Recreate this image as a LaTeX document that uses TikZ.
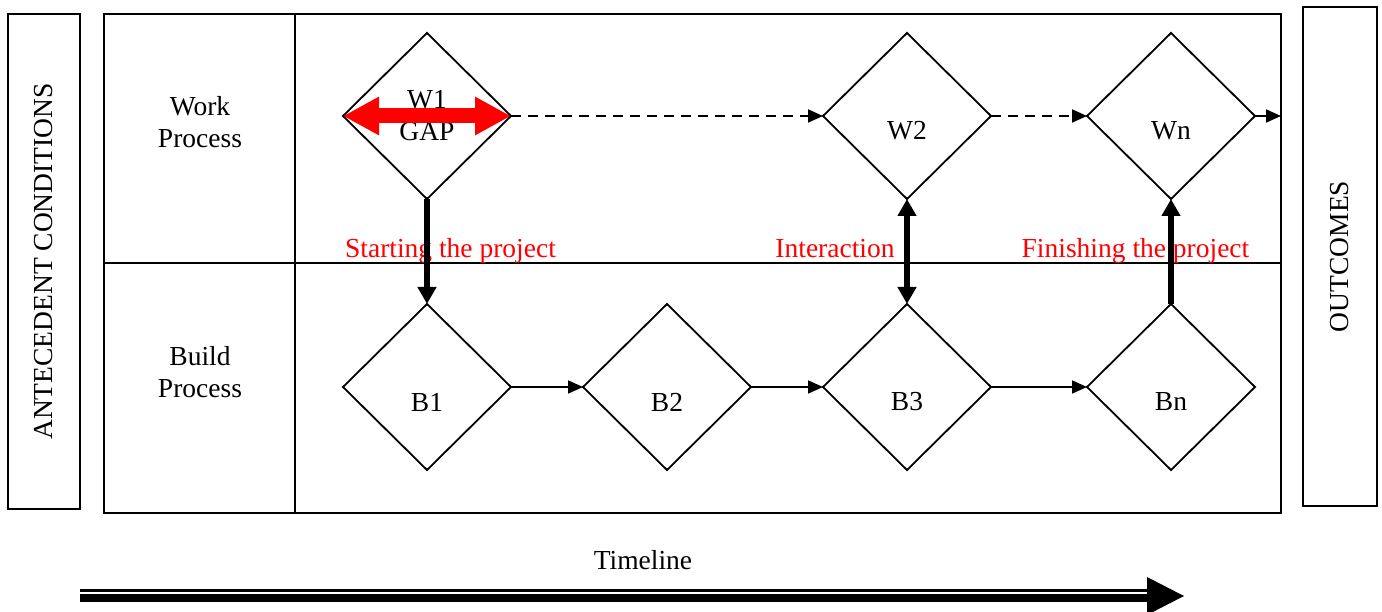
\documentclass[tikz,border=0pt]{standalone}
\usepackage{fontspec}
\setmainfont{Liberation Serif}
\usetikzlibrary{shapes.geometric,arrows.meta}
\begin{document}
\begin{tikzpicture}[x=1pt,y=-1pt,
  every node/.style={font=\fontsize{27.5}{32}\selectfont},
  dia/.style={draw,line width=1.8pt,shape=diamond,minimum width=168pt,minimum height=166pt,inner sep=0pt,outer sep=0pt,align=center},
  box/.style={draw,line width=1.8pt},
  smallarr/.style={line width=1.8pt,-{Triangle[length=15pt,width=13pt]}},
  dashline/.style={dash pattern=on 10pt off 7pt},
  bigtip/.tip={Triangle[length=17pt,width=18pt]},
  bigarr/.style={line width=6pt,-bigtip},
  redlab/.style={text=red,anchor=base},
  redtip/.tip={Triangle[length=36pt,width=36pt]},
  ]
\path[use as bounding box] (0,0) rectangle (1382,612);

% side boxes
\node[box,rotate=90,minimum width=495pt,minimum height=72pt,inner sep=0pt] (ant) at (44,261.5) {ANTECEDENT CONDITIONS};
\node[box,rotate=90,minimum width=499pt,minimum height=74pt,inner sep=0pt] (outc) at (1340,256.5) {OUTCOMES};

% main frame
\draw[box] (104,14) rectangle (1281,513);
\draw[box] (295,14) -- (295,513);
\draw[box] (104,263) -- (1281,263);

% lane labels
\node[align=center] (wp) at (200,122) {Work\\Process};
\node[align=center] (bp) at (200,372) {Build\\Process};

% red labels
\node[redlab] (lstart) at (450.5,258) {Starting the project};
\node[redlab] (linter) at (835,258) {Interaction};
\node[redlab] (lfinish) at (1135.5,258) {Finishing the project};

% diamonds
\node[dia] (w1) at (427,116) {W1\\GAP};
\node[dia,label={[yshift=-15pt]center:W2}] (w2) at (907,116) {};
\node[dia,label={[yshift=-15pt]center:Wn}] (wn) at (1171,116) {};
\node[dia,label={[yshift=-15pt]center:B1}] (b1) at (427,387) {};
\node[dia,label={[yshift=-15pt]center:B2}] (b2) at (667,387) {};
\node[dia,label={[yshift=-15pt]center:B3}] (b3) at (907,387) {};
\node[dia,label={[yshift=-15pt]center:Bn}] (bn) at (1171,387) {};

% connectors
\coordinate (wout) at (1281,116);
\draw[smallarr,dashline] (w1.east) -- (w2.west);
\draw[smallarr,dashline] (w2.east) -- (wn.west);
\draw[smallarr] (wn.east) -- (wout);
\draw[smallarr] (b1.east) -- (b2.west);
\draw[smallarr] (b2.east) -- (b3.west);
\draw[smallarr] (b3.east) -- (bn.west);

\draw[bigarr] (w1.south) -- (b1.north);
\draw[line width=6pt,bigtip-bigtip] (w2.south) -- (b3.north);
\draw[bigarr] (bn.north) -- (wn.south);

\draw[red,line width=15pt,redtip-redtip] (w1.west) -- (w1.east);

% timeline
\node[anchor=base] (tl) at (643,569) {Timeline};
\coordinate (ta) at (80,590.5);
\coordinate (tb) at (1150,590.5);
\coordinate (tc) at (80,598);
\coordinate (td) at (1150,598);
\draw[line width=2.5pt] (ta) -- (tb);
\draw[line width=8pt] (tc) -- (td);
\fill (1147,577) -- (1184,596) -- (1147,615) -- cycle;
\end{tikzpicture}
\end{document}
